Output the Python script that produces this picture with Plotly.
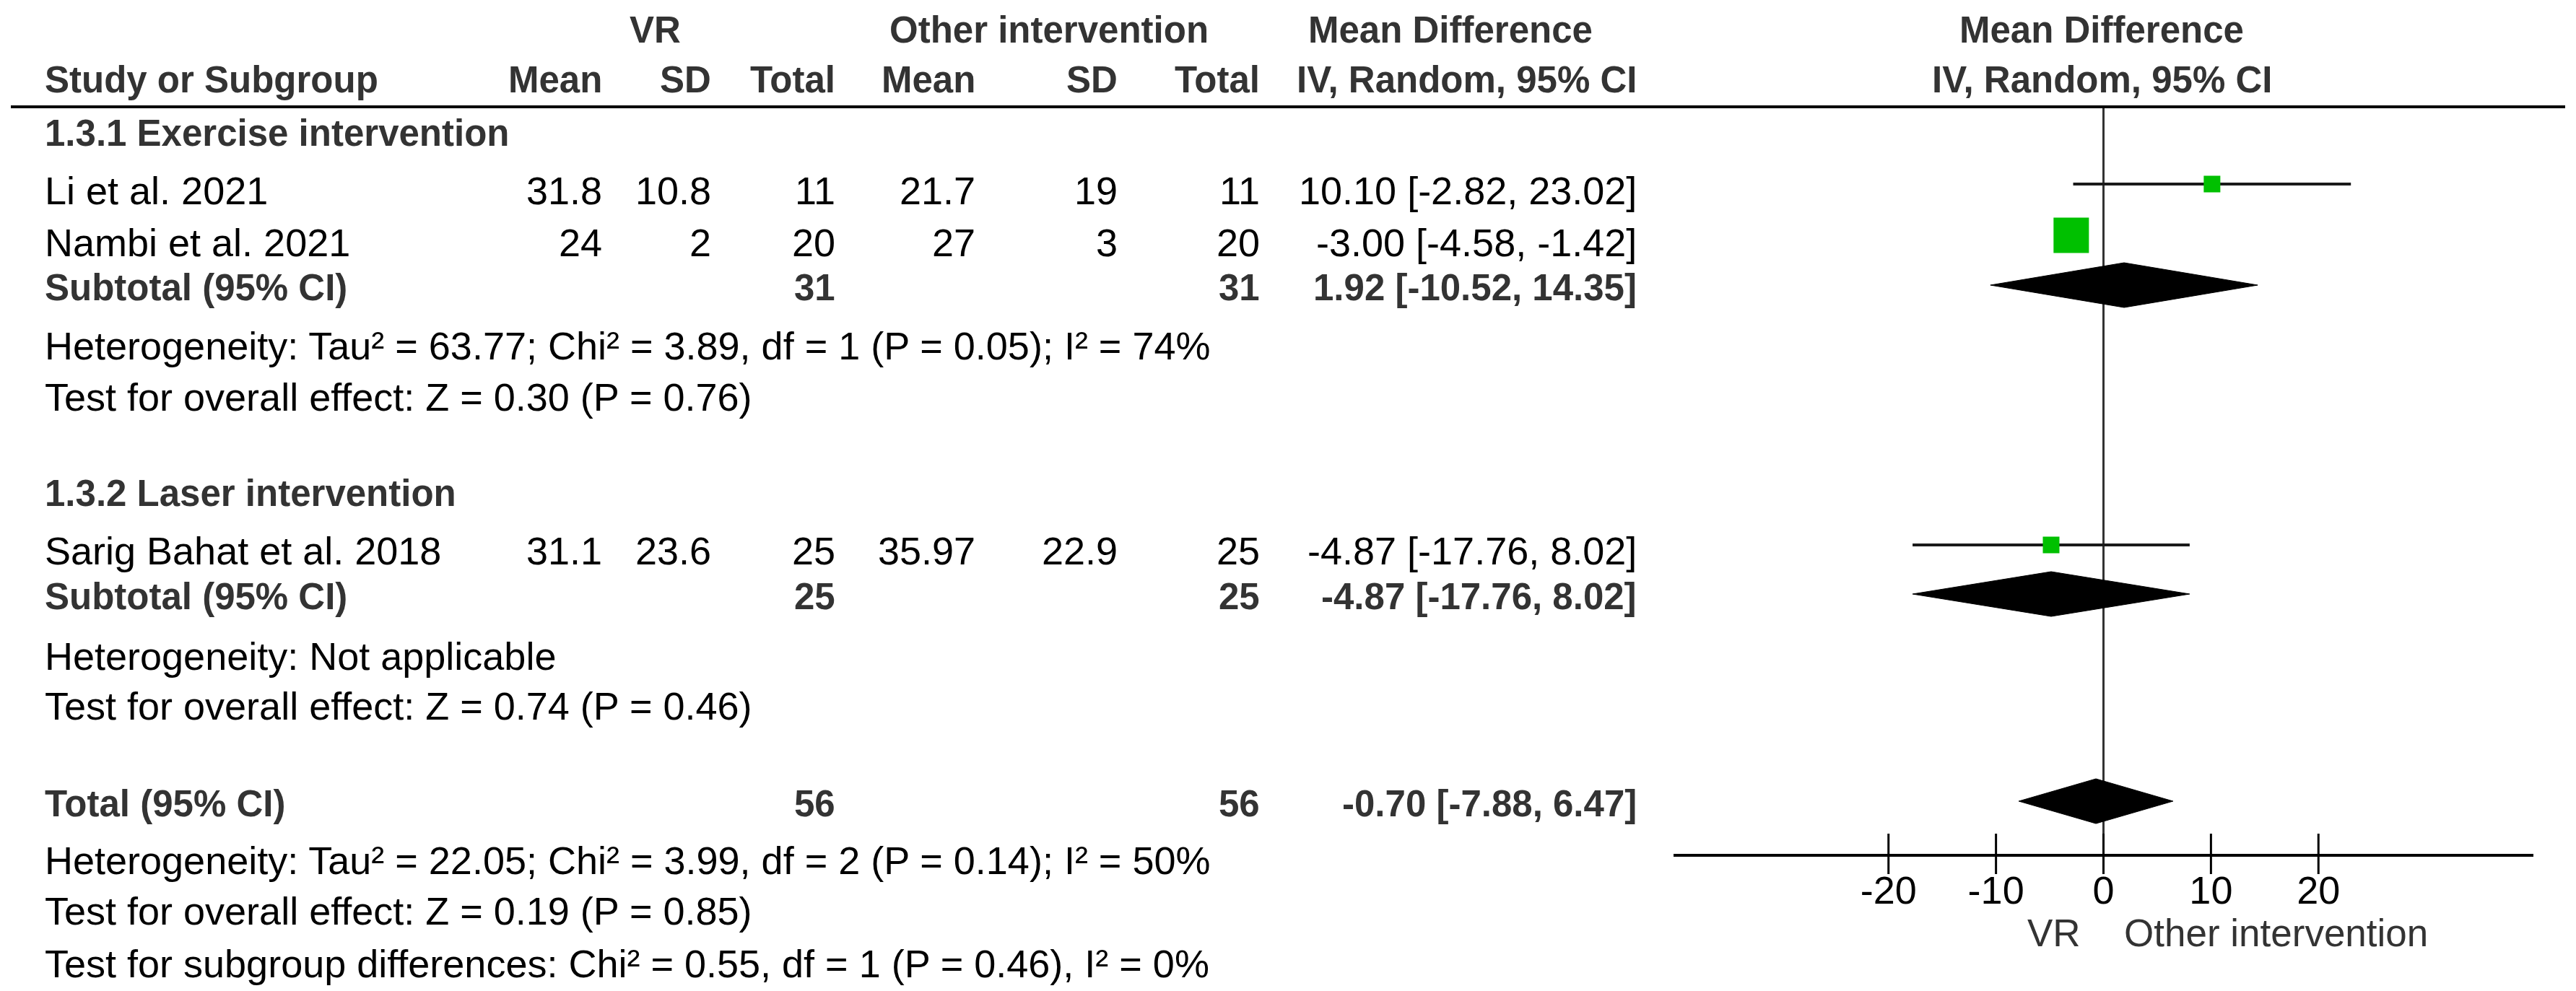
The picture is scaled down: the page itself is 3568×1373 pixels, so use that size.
import plotly.graph_objects as go

# ---------------- data ----------------
studies = ["Li et al. 2021", "Nambi et al. 2021", "Sarig Bahat et al. 2018"]
vr_mean = ["31.8", "24", "31.1"]
vr_sd = ["10.8", "2", "23.6"]
vr_total = [11, 20, 25]
oi_mean = ["21.7", "27", "35.97"]
oi_sd = ["19", "3", "22.9"]
oi_total = [11, 20, 25]
md = [10.10, -3.00, -4.87]
md_lo = [-2.82, -4.58, -17.76]
md_hi = [23.02, -1.42, 8.02]

subgroups = ["1.3.1 Exercise intervention", "1.3.2 Laser intervention"]
sub_vr_total = [31, 25]
sub_oi_total = [31, 25]
sub_md = [1.92, -4.87]
sub_lo = [-10.52, -17.76]
sub_hi = [14.35, 8.02]
sub_het = ["Heterogeneity: Tau² = 63.77; Chi² = 3.89, df = 1 (P = 0.05); I² = 74%",
           "Heterogeneity: Not applicable"]
sub_test = ["Test for overall effect: Z = 0.30 (P = 0.76)",
            "Test for overall effect: Z = 0.74 (P = 0.46)"]

tot_vr_total = 56
tot_oi_total = 56
tot_md = -0.70
tot_lo = -7.88
tot_hi = 6.47
tot_het = "Heterogeneity: Tau² = 22.05; Chi² = 3.99, df = 2 (P = 0.14); I² = 50%"
tot_test = "Test for overall effect: Z = 0.19 (P = 0.85)"
tot_subgrp = "Test for subgroup differences: Chi² = 0.55, df = 1 (P = 0.46), I² = 0%"

tick_vals = [-20, -10, 0, 10, 20]
axis_range = [-40, 40]
favours = ["VR", "Other intervention"]

# ---------------- layout constants ----------------
W, H = 3568, 1373
FS_B = 51      # bold text
FS_R = 54      # regular text
FONT = "Liberation Sans, Arial, sans-serif"
BOLD_C = "#333333"
TXT_C = "#000000"
GREEN = "#00C000"

AX_Y = 1183          # pixel row of forest axis
HDR_LINE_Y = 148
X_LEFT = 60
X_VRM, X_VRSD, X_VRN = 836, 987, 1159
X_OIM, X_OISD, X_OIN = 1353, 1550, 1747
X_CI = 2269
PLOT_L, PLOT_R = 2318, 3509

study_text_y = [264, 336, 763]
study_mark_y = [255, 326, 755]
study_sq = [23, 49, 23]
sub_head_y = [184, 683]
sub_row_y = [398, 826]
sub_diam_y = [395, 823]
sub_het_y = [479, 909]
sub_test_y = [550, 978]
tot_y = 1113
tot_diam_y = 1110
tot_het_y, tot_test_y, tot_subgrp_y = 1192, 1262, 1335
DIAM_H = 31

fig = go.Figure()
ann = []


def txt(x, y, s, bold=False, anchor="left", color=None):
    ann.append(dict(x=x, y=y, xref="x2", yref="y2", text=f"<b>{s}</b>" if bold else s,
                    showarrow=False, xanchor=anchor, yanchor="middle",
                    font=dict(family=FONT, size=FS_B if bold else FS_R,
                              color=color or (BOLD_C if bold else TXT_C))))


def fmt_ci(m, lo, hi):
    return f"{m:.2f} [{lo:.2f}, {hi:.2f}]"


# headers
txt(907, 41, "VR", True, "center")
txt(1453, 41, "Other intervention", True, "center")
txt(2009, 41, "Mean Difference", True, "center")
txt(2911, 41, "Mean Difference", True, "center")
txt(X_LEFT, 110, "Study or Subgroup", True)
for x, s in [(X_VRM, "Mean"), (X_VRSD, "SD"), (X_VRN, "Total"),
             (X_OIM, "Mean"), (X_OISD, "SD"), (X_OIN, "Total"),
             (X_CI, "IV, Random, 95% CI")]:
    txt(x, 110, s, True, "right")
txt(2911, 110, "IV, Random, 95% CI", True, "center")

# study rows
for i, s in enumerate(studies):
    y = study_text_y[i]
    txt(X_LEFT, y, s)
    txt(X_VRM, y, vr_mean[i], anchor="right")
    txt(X_VRSD, y, vr_sd[i], anchor="right")
    txt(X_VRN, y, str(vr_total[i]), anchor="right")
    txt(X_OIM, y, oi_mean[i], anchor="right")
    txt(X_OISD, y, oi_sd[i], anchor="right")
    txt(X_OIN, y, str(oi_total[i]), anchor="right")
    txt(X_CI, y, fmt_ci(md[i], md_lo[i], md_hi[i]), anchor="right")

# subgroups
for g in range(2):
    txt(X_LEFT, sub_head_y[g], subgroups[g], True)
    y = sub_row_y[g]
    txt(X_LEFT, y, "Subtotal (95% CI)", True)
    txt(X_VRN, y, str(sub_vr_total[g]), True, "right")
    txt(X_OIN, y, str(sub_oi_total[g]), True, "right")
    txt(X_CI, y, fmt_ci(sub_md[g], sub_lo[g], sub_hi[g]), True, "right")
    txt(X_LEFT, sub_het_y[g], sub_het[g])
    txt(X_LEFT, sub_test_y[g], sub_test[g])

# total
txt(X_LEFT, tot_y, "Total (95% CI)", True)
txt(X_VRN, tot_y, str(tot_vr_total), True, "right")
txt(X_OIN, tot_y, str(tot_oi_total), True, "right")
txt(X_CI, tot_y, fmt_ci(tot_md, tot_lo, tot_hi), True, "right")
txt(X_LEFT, tot_het_y, tot_het)
txt(X_LEFT, tot_test_y, tot_test)
txt(X_LEFT, tot_subgrp_y, tot_subgrp)

# favours labels (forest axis coords)
for s, xa, xv in [(favours[0], "right", -2.0), (favours[1], "left", 1.75)]:
    ann.append(dict(x=xv, y=1292, xref="x", yref="y2", text=s, showarrow=False,
                    xanchor=xa, yanchor="middle",
                    font=dict(family=FONT, size=53, color="#333333")))

# ---------------- forest marks ----------------
# zero line
fig.add_trace(go.Scatter(x=[0, 0], y=[HDR_LINE_Y, AX_Y], mode="lines",
                         line=dict(color="#333333", width=3), hoverinfo="skip",
                         showlegend=False, xaxis="x", yaxis="y"))
# diamonds
diamonds = [(sub_md[g], sub_lo[g], sub_hi[g], sub_diam_y[g]) for g in range(2)]
diamonds.append((tot_md, tot_lo, tot_hi, tot_diam_y))
for m, lo, hi, yc in diamonds:
    fig.add_trace(go.Scatter(x=[lo, m, hi, m, lo], y=[yc, yc - DIAM_H, yc, yc + DIAM_H, yc],
                             mode="lines", fill="toself", fillcolor="black",
                             line=dict(color="black", width=1), showlegend=False,
                             hoverinfo="skip", xaxis="x", yaxis="y"))
# CI lines
for i in range(len(studies)):
    fig.add_trace(go.Scatter(x=[md_lo[i], md_hi[i]], y=[study_mark_y[i]] * 2, mode="lines",
                             line=dict(color="#1a1a1a", width=4), showlegend=False,
                             hoverinfo="skip", xaxis="x", yaxis="y"))
# squares
fig.add_trace(go.Scatter(x=md, y=study_mark_y, mode="markers", opacity=1,
                         marker=dict(symbol="square", size=study_sq, color=GREEN, opacity=1,
                                     line=dict(width=0, color=GREEN)),
                         showlegend=False, hoverinfo="skip", xaxis="x", yaxis="y"))
# tick crosses
fig.add_trace(go.Scatter(x=tick_vals, y=[AX_Y] * len(tick_vals), mode="markers",
                         marker=dict(symbol="line-ns", size=40,
                                     line=dict(color="black", width=3)),
                         showlegend=False, hoverinfo="skip", xaxis="x", yaxis="y",
                         cliponaxis=False))

# header line
shapes = [dict(type="line", xref="x2", yref="y2", x0=15, x1=3553, y0=HDR_LINE_Y, y1=HDR_LINE_Y,
               line=dict(color="black", width=4))]

fig.update_layout(
    width=W, height=H, margin=dict(l=0, r=0, t=0, b=0),
    paper_bgcolor="white", plot_bgcolor="rgba(0,0,0,0)",
    showlegend=False, annotations=ann, shapes=shapes,
    xaxis=dict(domain=[PLOT_L / W, PLOT_R / W], range=axis_range, anchor="y",
               showline=True, linecolor="black", linewidth=4, showgrid=False,
               zeroline=False, tickmode="array", tickvals=tick_vals,
               ticktext=[str(v) for v in tick_vals], ticks="", ticklabelstandoff=0,
               tickfont=dict(family=FONT, size=FS_R, color="black"), fixedrange=True),
    yaxis=dict(domain=[(H - AX_Y) / H, 1], range=[AX_Y, 0], visible=False, fixedrange=True),
    xaxis2=dict(domain=[0, 1], range=[0, W], anchor="y2", visible=False),
    yaxis2=dict(domain=[0, 1], range=[H, 0], anchor="x2", visible=False),
)

fig.write_html("out.html", config={"displayModeBar": False},
               post_script="document.body.style.margin='0px';document.body.style.overflow='hidden';")
